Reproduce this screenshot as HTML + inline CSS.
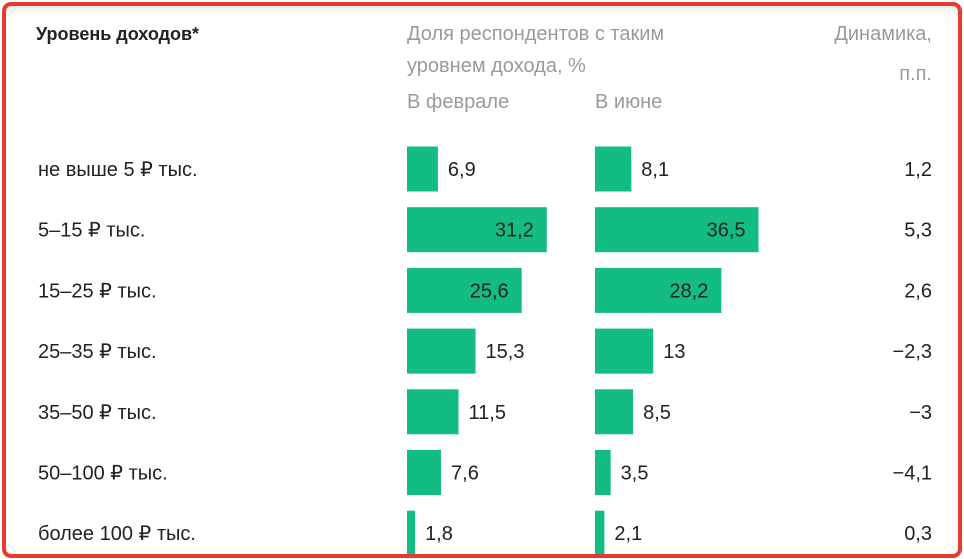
<!DOCTYPE html>
<html><head><meta charset="utf-8"><style>
html,body{margin:0;padding:0;background:#fff;width:964px;height:559px;overflow:hidden;font-family:"Liberation Sans",sans-serif;}
#card{position:absolute;left:2px;top:2px;width:952px;height:548px;border:4px solid #e53b30;border-radius:9px;overflow:hidden;box-shadow:inset 0 8px 10px -6px rgba(0,0,0,0.12);}
.t{position:absolute;white-space:nowrap;}
</style></head><body>
<div id="card"></div>
<svg id="chart" width="964" height="559" style="position:absolute;left:0;top:0">
<defs><clipPath id="clip"><rect x="6" y="6" width="952" height="548" rx="6"/></clipPath></defs>
<g clip-path="url(#clip)" id="marks"></g>
<text x="36" y="40" font-size="18" font-weight="bold" fill="#222" font-family="Liberation Sans, sans-serif">Уровень доходов*</text>
<text x="407" y="40" font-size="20" fill="#9a9a9a" font-family="Liberation Sans, sans-serif">Доля респондентов с таким</text>
<text x="407" y="72" font-size="20" fill="#9a9a9a" font-family="Liberation Sans, sans-serif">уровнем дохода, %</text>
<text x="407" y="108" font-size="20" fill="#9a9a9a" font-family="Liberation Sans, sans-serif">В феврале</text>
<text x="595" y="108" font-size="20" fill="#9a9a9a" font-family="Liberation Sans, sans-serif">В июне</text>
<text x="932" y="40" font-size="20" fill="#9a9a9a" text-anchor="end" font-family="Liberation Sans, sans-serif">Динамика,</text>
<text x="932" y="80" font-size="20" fill="#9a9a9a" text-anchor="end" font-family="Liberation Sans, sans-serif">п.п.</text>
</svg>
<script>
const categories=["не выше 5 ₽ тыс.","5–15 ₽ тыс.","15–25 ₽ тыс.","25–35 ₽ тыс.","35–50 ₽ тыс.","50–100 ₽ тыс.","более 100 ₽ тыс."];
const february=[6.9,31.2,25.6,15.3,11.5,7.6,1.8];
const june=[8.1,36.5,28.2,13,8.5,3.5,2.1];
const dynamics=["1,2","5,3","2,6","−2,3","−3","−4,1","0,3"];

const NS="http://www.w3.org/2000/svg";
const g=document.getElementById('marks');
const svg=document.getElementById('chart');
const xScale=v=>v*4.48;
const yCenter=i=>169+i*60.7;
const BAR_H=45;
function fmt(v){return String(v).replace('.',',');}
function txt(parent,x,y,s,anchor){
  const t=document.createElementNS(NS,'text');
  t.setAttribute('x',x);t.setAttribute('y',y);
  t.setAttribute('font-size','20');t.setAttribute('fill','#222');
  t.setAttribute('font-family','Liberation Sans, sans-serif');
  if(anchor)t.setAttribute('text-anchor',anchor);
  t.textContent=s;parent.appendChild(t);return t;
}
function bars(series,x0,name){
  series.forEach((v,i)=>{
    const w=xScale(v),yc=yCenter(i);
    const r=document.createElementNS(NS,'rect');
    r.setAttribute('x',x0);r.setAttribute('y',yc-BAR_H/2);
    r.setAttribute('width',w);r.setAttribute('height',BAR_H);
    r.setAttribute('fill','#13bc85');
    
    
    g.appendChild(r);
    let t;
    if(v>=20){t=txt(svg,x0+w-13,yc+7,fmt(v),'end');}
    else{t=txt(svg,x0+w+10,yc+7,fmt(v));}
    
    
  });
}
bars(february,407,'february');
bars(june,595,'june');
categories.forEach((c,i)=>{
  const t=txt(svg,38,yCenter(i)+7,c);
  
  
  const d=txt(svg,932,yCenter(i)+7,dynamics[i],'end');
  
  
});
</script>
</body></html>
